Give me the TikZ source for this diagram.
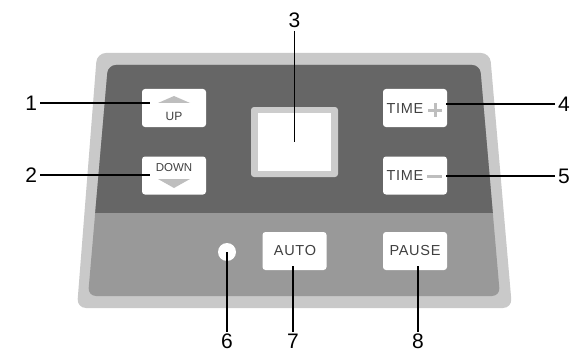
\documentclass[tikz,border=0pt]{standalone}
\usepackage{fontspec}
\setmainfont{Liberation Sans}
\newfontfamily\keyfont[LetterSpace=5]{Liberation Sans}
\usetikzlibrary{positioning}
\definecolor{cpFrame} {RGB}{201,201,201}
\definecolor{cpDark}  {RGB}{102,102,102}
\definecolor{cpMid}   {RGB}{153,153,153}
\definecolor{cpScreen}{RGB}{204,204,204}
\definecolor{cpSym}   {RGB}{190,190,190}
\definecolor{cpText}  {RGB}{ 64, 64, 64}

\begin{document}
\begin{tikzpicture}[x=1pt,y=-1pt,
  every node/.style={inner sep=0pt,outer sep=0pt},
  btn/.style   ={fill=white,rounded corners=3pt,
                 minimum width=64pt,minimum height=38pt},
  key/.style   ={text=cpText,font=\keyfont\fontsize{14.5}{14.5}\selectfont},
  small/.style ={text=cpText,font=\fontsize{11.5}{11.5}\selectfont},
  num/.style   ={inner sep=3pt,font=\fontsize{21}{21}\selectfont},
  glyph/.style ={fill=cpSym},
  leader/.style={draw=black,line width=1.8pt}
]
\useasboundingbox (0,0) rectangle (576,353);
\fill[white] (0,0) rectangle (576,353);

% housing
\fill[cpFrame,rounded corners=9pt] (97,53) -- (490,53) -- (512,308) -- (77,308) -- cycle;
\begin{scope}
  \clip[rounded corners=8pt] (108,65) -- (480,65) -- (500,296) -- (88,296) -- cycle;
  \fill[cpMid]  (80,60) rectangle (510,300);
  \fill[cpDark] (80,60) rectangle (510,213);
\end{scope}

% keys
\node[btn] (up)     at (174,108)   {};
\node[btn] (down)   at (174,175.5) {};
\node[btn] (tplus)  at (415,108)   {};
\node[btn] (tminus) at (415,175.5) {};
\node[btn] (auto)   at (294.5,251) {};
\node[btn] (pause)  at (415,251)   {};

\fill[glyph] (158,103) -- (174,96) -- (190,103) -- cycle;
\node[small,font=\fontsize{12}{12}\selectfont] (upTxt) at (174,116) {UP};
\node[small] (downTxt) at (174,168) {DOWN};
\fill[glyph] (158,179) -- (190,179) -- (174,188) -- cycle;

\node[key] (tpTxt) at (405,109) {TIME};
\fill[glyph] (428,108.5) rectangle (442,111.5);
\fill[glyph] (433.5,103) rectangle (436.5,117);
\node[key] (tmTxt) at (405,176) {TIME};
\fill[glyph] (427,174.5) rectangle (442,177.5);

\node[key] (autoTxt)  at (295,251) {AUTO};
\node[key] (pauseTxt) at (415,251) {PAUSE};

% display and lamp
\node[fill=cpScreen,rounded corners=3pt,minimum width=87pt,minimum height=70pt]
  (frame) at (294.5,142) {};
\node[fill=white,minimum width=73pt,minimum height=58pt] (screen) at (294.5,142) {};
\node[circle,fill=white,minimum size=18pt] (led) at (227,252) {};

% leader ends
\coordinate (upIn)    at (150,103);
\coordinate (downIn)  at (150,175);
\coordinate (tpIn)    at (446,104);
\coordinate (tmIn)    at (446,176);
\coordinate (autoIn)  at (293,266);
\coordinate (pauseIn) at (418,266);

% callout numbers
\node[num,anchor=east]  (n1) at (40,103)  {1};
\node[num,anchor=east]  (n2) at (40,175)  {2};
\node[num,anchor=south] (n3) at (294.5,31) {3};
\node[num,anchor=west]  (n4) at (555,104) {4};
\node[num,anchor=west]  (n5) at (555,176) {5};
\node[num,anchor=north,inner sep=2pt] (n6) at (227,332) {6};
\node[num,anchor=north,inner sep=2pt] (n7) at (293,332) {7};
\node[num,anchor=north,inner sep=2pt] (n8) at (418,332) {8};

\foreach \a/\b in {n1/upIn,n2/downIn,n4/tpIn,n5/tmIn,n7/autoIn,n8/pauseIn}
  \draw[leader] (\a) -- (\b);
\draw[leader] (n3) -- (screen.center);
\draw[leader] (n6) -- (led.center);
\end{tikzpicture}
\end{document}
